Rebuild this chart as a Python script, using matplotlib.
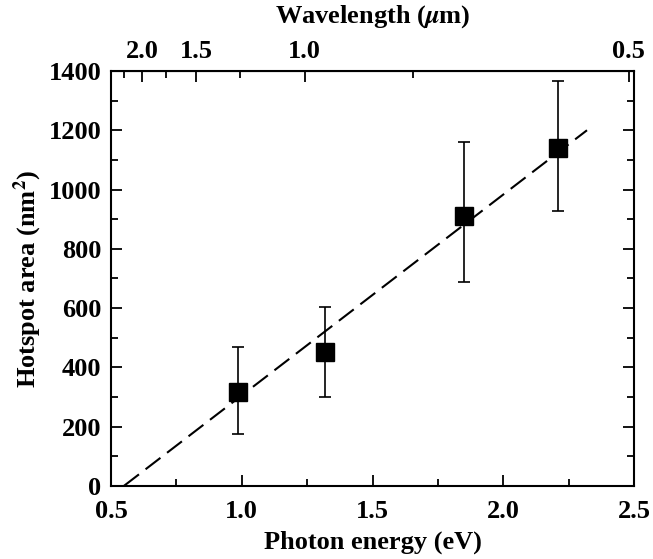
import numpy as np
import matplotlib
matplotlib.use("Agg")
import matplotlib.pyplot as plt
from matplotlib.ticker import MultipleLocator, FixedLocator

plt.rcParams['font.family'] = ['Liberation Serif', 'DejaVu Serif']
plt.rcParams['font.weight'] = 'bold'
plt.rcParams['mathtext.fontset'] = 'stix'

# measured hotspot areas vs photon energy
energy = [0.985, 1.32, 1.85, 2.21]          # eV
area = [315, 453, 912, 1140]                # nm^2
err_lo = [140, 155, 225, 214]
err_hi = [152, 150, 248, 225]

# linear fit drawn through the points
fit_energy = [0.55, 2.32]
fit_area = [0, 1200]

wl_major = [2.0, 1.5, 1.0, 0.5]             # um
wl_minor = [2.25, 1.75, 1.25, 0.75]

FS = 19


def ev_um(x):
    x = np.asarray(x, dtype=float)
    with np.errstate(divide='ignore'):
        return 1.24 / x


fig = plt.figure(figsize=(6.53, 5.59), dpi=100)
ax = fig.add_axes([0.170, 0.131, 0.801, 0.742])

ax.plot(fit_energy, fit_area, color='black', lw=1.5, dashes=(9, 4))
ax.errorbar(energy, area, yerr=[err_lo, err_hi], fmt='s', color='black',
            ms=13, elinewidth=1.2, capsize=4.5, capthick=1.2)

ax.set_xlim(0.5, 2.5)
ax.set_ylim(0, 1400)
ax.xaxis.set_major_locator(MultipleLocator(0.5))
ax.xaxis.set_minor_locator(MultipleLocator(0.25))
ax.yaxis.set_major_locator(MultipleLocator(200))
ax.yaxis.set_minor_locator(MultipleLocator(100))
ax.xaxis.set_major_formatter(plt.FormatStrFormatter('%.1f'))

ax.tick_params(which='both', direction='in', right=True, labelsize=FS, width=1.3)
ax.tick_params(axis='x', which='both', top=False)
ax.tick_params(which='major', length=8)
ax.tick_params(which='minor', length=5)
ax.tick_params(axis='x', pad=10)
ax.tick_params(axis='y', pad=7)
for s in ax.spines.values():
    s.set_linewidth(1.5)

ax.set_xlabel('Photon energy (eV)', fontsize=FS, fontweight='bold', labelpad=6)
ax.set_ylabel(r'Hotspot area (nm$^{\mathbf{2}}$)', fontsize=FS, fontweight='bold', labelpad=3)

top = ax.secondary_xaxis('top', functions=(ev_um, ev_um))
top.xaxis.set_major_locator(FixedLocator(wl_major))
top.xaxis.set_minor_locator(FixedLocator(wl_minor))
top.xaxis.set_major_formatter(plt.FormatStrFormatter('%.1f'))
top.tick_params(which='both', direction='in', labelsize=FS, width=1.3, pad=6)
top.tick_params(which='major', length=8)
top.tick_params(which='minor', length=5)
top.set_xlabel(r'Wavelength ($\mu$m)', fontsize=FS, fontweight='bold', labelpad=12)

fig.savefig('out.png', dpi=100)
